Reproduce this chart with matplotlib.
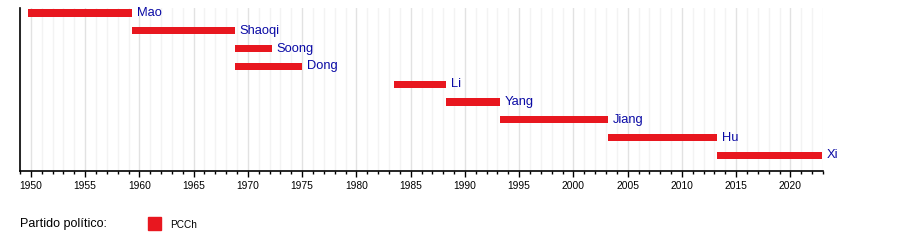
import matplotlib
matplotlib.use('Agg')
import matplotlib.pyplot as plt
from matplotlib.ticker import MultipleLocator

plt.rcParams['font.family'] = ['Liberation Sans', 'DejaVu Sans']

# presidents and terms (decimal years)
names = ['Mao', 'Shaoqi', 'Soong', 'Dong', 'Li', 'Yang', 'Jiang', 'Hu', 'Xi']
starts = [1949.75, 1959.3, 1968.8, 1968.8, 1983.45, 1988.3, 1993.25, 2003.2, 2013.2]
ends = [1959.3, 1968.8, 1972.2, 1975.0, 1988.3, 1993.25, 2003.2, 2013.2, 2022.9]
party = 'PCCh'
party_color = '#e8171f'
year_min, year_max = 1949, 2023

fig = plt.figure(figsize=(9, 2.5), dpi=100)
ax = fig.add_axes([20 / 900, 1 - 171 / 250, (823 - 20) / 900, 163 / 250])

# faint yearly grid, slightly darker every 5 years
for yr in range(year_min, year_max + 1):
    c = '#e2e2e2' if yr % 5 == 0 else '#f3f3f3'
    ax.axvline(yr, color=c, lw=1, zorder=0)

rows = range(len(names))
ax.barh(list(rows), [e - s for s, e in zip(starts, ends)], left=starts,
        height=0.4, color=party_color, zorder=2)
for i, (nm, e) in enumerate(zip(names, ends)):
    ax.text(e + 0.45, i, nm, color='#0a0aa5', fontsize=9.3, va='center', ha='left')

ax.set_xlim(year_min, year_max)
ax.set_ylim(8.88, -0.28)
ax.xaxis.set_minor_locator(MultipleLocator(1))
ax.set_xticks(range(1950, 2021, 5))
ax.tick_params(axis='x', which='major', length=4, width=1, labelsize=7.4, pad=3)
ax.tick_params(axis='x', which='minor', length=2, width=1)
ax.set_yticks([])
for s in ['top', 'right']:
    ax.spines[s].set_visible(False)
ax.spines['left'].set_linewidth(1.2)
ax.spines['bottom'].set_linewidth(1.2)

# legend
fig.text(20 / 900, 1 - 224 / 250, 'Partido político:', fontsize=9, va='center', ha='left')
fig.patches.append(plt.Rectangle((148 / 900, 1 - 230 / 250), 13 / 900, 13 / 250,
                                 color=party_color, transform=fig.transFigure, figure=fig))
fig.text(170 / 900, 1 - 225 / 250, party, fontsize=7.2, va='center', ha='left')

fig.savefig('out.png', dpi=100)
